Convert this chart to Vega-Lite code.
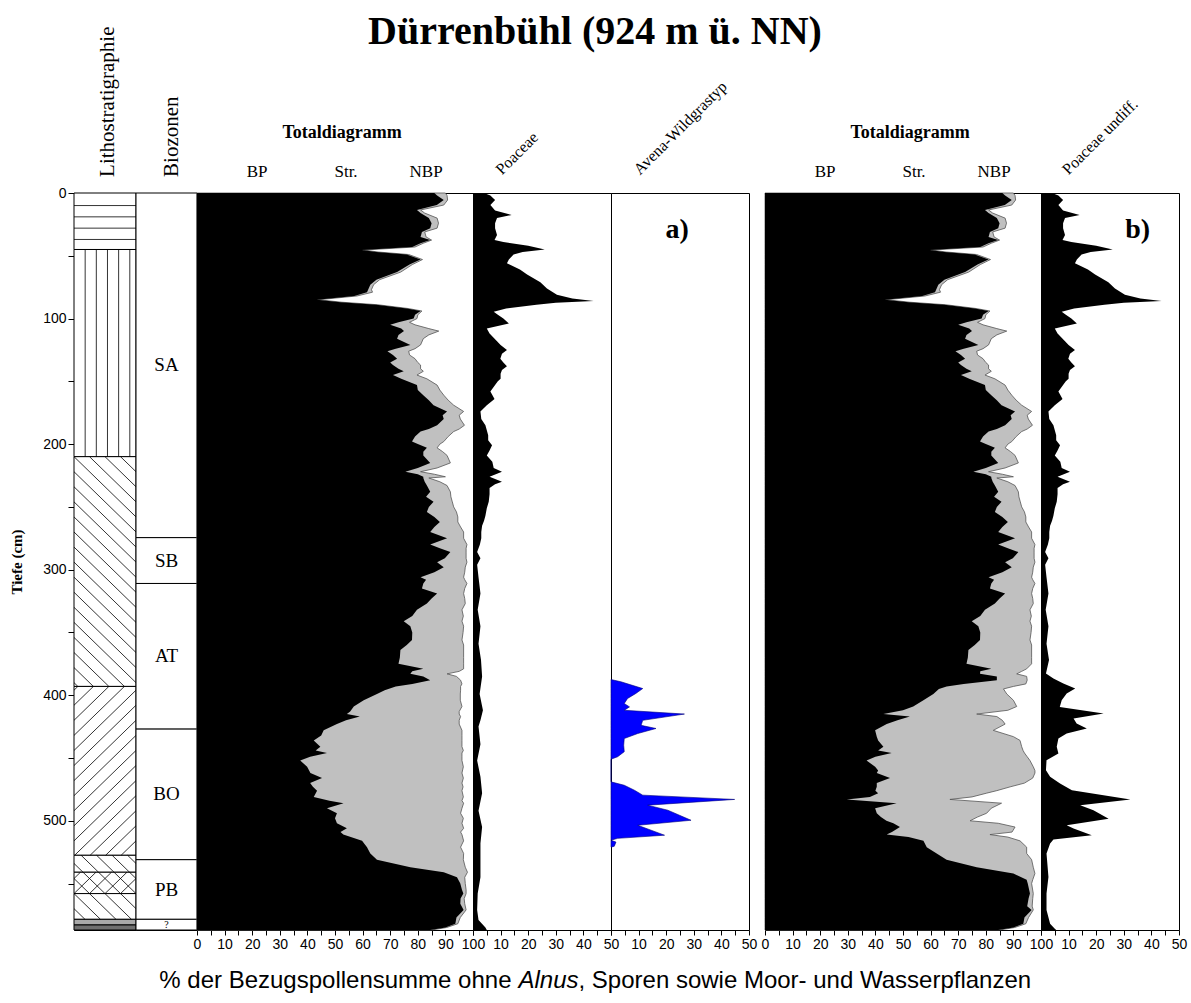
{
"$schema": "https://vega.github.io/schema/vega-lite/v6.json",
"background": "white",
"padding": {"left": 9, "top": 11, "right": 3, "bottom": 4},
"bounds": "flush",
"spacing": 0,
"datasets": {
"total_a": [
{"depth":0,"bp":86,"cum":90},{"depth":2,"bp":87,"cum":90.6},{"depth":5.6,"bp":89.4,"cum":90.8},{"depth":9.6,"bp":86.9,"cum":89.4},{"depth":13.5,"bp":79.7,"cum":81},{"depth":16,"bp":81,"cum":82.5},{"depth":20,"bp":84,"cum":87},{"depth":24,"bp":85,"cum":87.5},{"depth":28,"bp":84.5,"cum":87},{"depth":31,"bp":81.5,"cum":82.5},{"depth":35,"bp":81,"cum":83},{"depth":37.5,"bp":84.5,"cum":85},{"depth":40,"bp":81,"cum":82},{"depth":43,"bp":78,"cum":79},{"depth":45.4,"bp":59.8,"cum":60.4},{"depth":47,"bp":65,"cum":65.6},{"depth":49,"bp":76,"cum":76.7},{"depth":53,"bp":81,"cum":81.7},{"depth":57,"bp":77,"cum":78},{"depth":63,"bp":72.5,"cum":73.8},{"depth":69,"bp":65,"cum":66.2},{"depth":73,"bp":62.8,"cum":64},{"depth":77,"bp":62,"cum":63.2},{"depth":79,"bp":61.6,"cum":63.6},{"depth":82,"bp":57,"cum":58},{"depth":85,"bp":43.5,"cum":44},{"depth":87,"bp":52,"cum":52.5},{"depth":89,"bp":65,"cum":65.5},{"depth":92,"bp":76,"cum":76.5},{"depth":94,"bp":81,"cum":81.5},{"depth":97,"bp":79,"cum":80},{"depth":100,"bp":78.5,"cum":79.7},{"depth":103,"bp":73,"cum":77},{"depth":105,"bp":70,"cum":79},{"depth":108,"bp":74,"cum":84},{"depth":110,"bp":75,"cum":87.6},{"depth":113,"bp":73,"cum":84},{"depth":116,"bp":72.5,"cum":82},{"depth":121,"bp":77.3,"cum":81},{"depth":124,"bp":72,"cum":79},{"depth":126,"bp":69,"cum":76.7},{"depth":129,"bp":71,"cum":77},{"depth":132,"bp":72.5,"cum":79},{"depth":135,"bp":70,"cum":80},{"depth":137,"bp":71,"cum":81},{"depth":140,"bp":73,"cum":81},{"depth":142,"bp":74.9,"cum":82},{"depth":145,"bp":71,"cum":79.7},{"depth":148,"bp":74,"cum":83.3},{"depth":153,"bp":79.7,"cum":87},{"depth":157,"bp":80,"cum":88},{"depth":161,"bp":82,"cum":89.4},{"depth":165,"bp":84,"cum":91},{"depth":169,"bp":85.7,"cum":93},{"depth":174,"bp":90.6,"cum":96.6},{"depth":177,"bp":89,"cum":95},{"depth":180,"bp":89.4,"cum":95.4},{"depth":185,"bp":87,"cum":96.9},{"depth":188,"bp":84,"cum":95},{"depth":190,"bp":81,"cum":93},{"depth":194,"bp":79,"cum":91},{"depth":198,"bp":77.9,"cum":89.4},{"depth":200,"bp":80,"cum":88},{"depth":203,"bp":83.3,"cum":87},{"depth":206,"bp":82,"cum":89},{"depth":209,"bp":82,"cum":90.6},{"depth":215,"bp":84.5,"cum":91.8},{"depth":219,"bp":80,"cum":87},{"depth":222,"bp":75.5,"cum":81},{"depth":224,"bp":80,"cum":86},{"depth":226,"bp":82,"cum":90},{"depth":227,"bp":82,"cum":84},{"depth":230,"bp":82.5,"cum":88},{"depth":233,"bp":83.3,"cum":90.6},{"depth":238,"bp":84.5,"cum":91.8},{"depth":242,"bp":83,"cum":92},{"depth":246,"bp":85.7,"cum":92.5},{"depth":250,"bp":84,"cum":93},{"depth":254,"bp":83.3,"cum":94},{"depth":258,"bp":86,"cum":94.5},{"depth":262,"bp":88,"cum":94.5},{"depth":266,"bp":86,"cum":95.5},{"depth":270,"bp":84.5,"cum":96.6},{"depth":275,"bp":90.6,"cum":96.6},{"depth":280,"bp":84.5,"cum":97.8},{"depth":283,"bp":88,"cum":97.5},{"depth":286,"bp":91.8,"cum":97.5},{"depth":291,"bp":89.8,"cum":97.5},{"depth":294,"bp":87,"cum":97.8},{"depth":298,"bp":89.4,"cum":97.2},{"depth":302,"bp":86,"cum":97},{"depth":306,"bp":81,"cum":96.6},{"depth":308,"bp":83,"cum":97},{"depth":311,"bp":82,"cum":97.8},{"depth":315,"bp":81.5,"cum":97},{"depth":319,"bp":87,"cum":96.6},{"depth":323,"bp":85,"cum":97},{"depth":327,"bp":83.3,"cum":97.2},{"depth":332,"bp":79.7,"cum":96},{"depth":337,"bp":78,"cum":96.5},{"depth":341,"bp":74.9,"cum":96},{"depth":345,"bp":77.3,"cum":96.6},{"depth":350,"bp":78,"cum":96.4},{"depth":356,"bp":77.9,"cum":96},{"depth":360,"bp":76,"cum":96.6},{"depth":364,"bp":73.7,"cum":96.6},{"depth":370,"bp":73.5,"cum":96.6},{"depth":375,"bp":73,"cum":96.6},{"depth":379,"bp":82,"cum":96.6},{"depth":381,"bp":78,"cum":95},{"depth":383,"bp":77.3,"cum":90.6},{"depth":385,"bp":82,"cum":94},{"depth":388,"bp":84.5,"cum":95.5},{"depth":391,"bp":78,"cum":96},{"depth":393,"bp":72,"cum":95.5},{"depth":396,"bp":68,"cum":95.5},{"depth":399,"bp":65.2,"cum":95.4},{"depth":404,"bp":60.4,"cum":95.4},{"depth":409,"bp":56.8,"cum":96},{"depth":413,"bp":55.5,"cum":95},{"depth":415,"bp":54.3,"cum":95},{"depth":417,"bp":59,"cum":95.5},{"depth":420,"bp":54,"cum":95},{"depth":423,"bp":50.7,"cum":95},{"depth":428,"bp":45.9,"cum":96},{"depth":432,"bp":45,"cum":96},{"depth":436,"bp":42.3,"cum":96},{"depth":441,"bp":44.7,"cum":96},{"depth":444,"bp":43,"cum":96.5},{"depth":446,"bp":47.1,"cum":96},{"depth":449,"bp":41,"cum":96},{"depth":452,"bp":37.4,"cum":96},{"depth":457,"bp":39.9,"cum":96.5},{"depth":462,"bp":41.1,"cum":96},{"depth":466,"bp":45.3,"cum":96.5},{"depth":470,"bp":41,"cum":96},{"depth":473,"bp":42,"cum":96.4},{"depth":476,"bp":43.5,"cum":96},{"depth":481,"bp":42.3,"cum":96.5},{"depth":484,"bp":48,"cum":96},{"depth":486,"bp":53.1,"cum":96.6},{"depth":490,"bp":47.1,"cum":96},{"depth":494,"bp":50.7,"cum":95.5},{"depth":498,"bp":50,"cum":96.5},{"depth":502,"bp":50.7,"cum":96},{"depth":506,"bp":54.3,"cum":96.6},{"depth":509,"bp":52,"cum":95.5},{"depth":511,"bp":53,"cum":96},{"depth":516,"bp":59.8,"cum":96.6},{"depth":521,"bp":61.6,"cum":95.5},{"depth":526,"bp":62.8,"cum":96.6},{"depth":531,"bp":65.2,"cum":96.5},{"depth":537,"bp":77.3,"cum":97.2},{"depth":541,"bp":89.4,"cum":98},{"depth":545,"bp":94.2,"cum":97},{"depth":550,"bp":95.4,"cum":97.2},{"depth":555,"bp":96,"cum":97.5},{"depth":558,"bp":96.5,"cum":97.5},{"depth":562,"bp":95.5,"cum":96.8},{"depth":566,"bp":95.4,"cum":97},{"depth":571,"bp":96.6,"cum":97.5},{"depth":577,"bp":94,"cum":95.4},{"depth":582,"bp":93.6,"cum":94.5},{"depth":585,"bp":90,"cum":90.5},{"depth":587,"bp":84.5,"cum":85}
],
"total_b": [
{"depth":0,"bp":86,"cum":90},{"depth":2,"bp":87,"cum":90.6},{"depth":5.6,"bp":89.4,"cum":90.8},{"depth":9.6,"bp":86.9,"cum":89.4},{"depth":13.5,"bp":79.7,"cum":81},{"depth":16,"bp":81,"cum":82.5},{"depth":20,"bp":84,"cum":87},{"depth":24,"bp":85,"cum":87.5},{"depth":28,"bp":84.5,"cum":87},{"depth":31,"bp":81.5,"cum":82.5},{"depth":35,"bp":81,"cum":83},{"depth":37.5,"bp":84.5,"cum":85},{"depth":40,"bp":81,"cum":82},{"depth":43,"bp":78,"cum":79},{"depth":45.4,"bp":59.8,"cum":60.4},{"depth":47,"bp":65,"cum":65.6},{"depth":49,"bp":76,"cum":76.7},{"depth":53,"bp":81,"cum":81.7},{"depth":57,"bp":77,"cum":78},{"depth":63,"bp":72.5,"cum":73.8},{"depth":69,"bp":65,"cum":66.2},{"depth":73,"bp":62.8,"cum":64},{"depth":77,"bp":62,"cum":63.2},{"depth":79,"bp":61.6,"cum":63.6},{"depth":82,"bp":57,"cum":58},{"depth":85,"bp":43.5,"cum":44},{"depth":87,"bp":52,"cum":52.5},{"depth":89,"bp":65,"cum":65.5},{"depth":92,"bp":76,"cum":76.5},{"depth":94,"bp":81,"cum":81.5},{"depth":97,"bp":79,"cum":80},{"depth":100,"bp":78.5,"cum":79.7},{"depth":103,"bp":73,"cum":77},{"depth":105,"bp":70,"cum":79},{"depth":108,"bp":74,"cum":84},{"depth":110,"bp":75,"cum":87.6},{"depth":113,"bp":73,"cum":84},{"depth":116,"bp":72.5,"cum":82},{"depth":121,"bp":77.3,"cum":81},{"depth":124,"bp":72,"cum":79},{"depth":126,"bp":69,"cum":76.7},{"depth":129,"bp":71,"cum":77},{"depth":132,"bp":72.5,"cum":79},{"depth":135,"bp":70,"cum":80},{"depth":137,"bp":71,"cum":81},{"depth":140,"bp":73,"cum":81},{"depth":142,"bp":74.9,"cum":82},{"depth":145,"bp":71,"cum":79.7},{"depth":148,"bp":74,"cum":83.3},{"depth":153,"bp":79.7,"cum":87},{"depth":157,"bp":80,"cum":88},{"depth":161,"bp":82,"cum":89.4},{"depth":165,"bp":84,"cum":91},{"depth":169,"bp":85.7,"cum":93},{"depth":174,"bp":90.6,"cum":96.6},{"depth":177,"bp":89,"cum":95},{"depth":180,"bp":89.4,"cum":95.4},{"depth":185,"bp":87,"cum":96.9},{"depth":188,"bp":84,"cum":95},{"depth":190,"bp":81,"cum":93},{"depth":194,"bp":79,"cum":91},{"depth":198,"bp":77.9,"cum":89.4},{"depth":200,"bp":80,"cum":88},{"depth":203,"bp":83.3,"cum":87},{"depth":206,"bp":82,"cum":89},{"depth":209,"bp":82,"cum":90.6},{"depth":215,"bp":84.5,"cum":91.8},{"depth":219,"bp":80,"cum":87},{"depth":222,"bp":75.5,"cum":81},{"depth":224,"bp":80,"cum":86},{"depth":226,"bp":82,"cum":90},{"depth":227,"bp":82,"cum":84},{"depth":230,"bp":82.5,"cum":88},{"depth":233,"bp":83.3,"cum":90.6},{"depth":238,"bp":84.5,"cum":91.8},{"depth":242,"bp":83,"cum":92},{"depth":246,"bp":85.7,"cum":92.5},{"depth":250,"bp":84,"cum":93},{"depth":254,"bp":83.3,"cum":94},{"depth":258,"bp":86,"cum":94.5},{"depth":262,"bp":88,"cum":94.5},{"depth":266,"bp":86,"cum":95.5},{"depth":270,"bp":84.5,"cum":96.6},{"depth":275,"bp":90.6,"cum":96.6},{"depth":280,"bp":84.5,"cum":97.8},{"depth":283,"bp":88,"cum":97.5},{"depth":286,"bp":91.8,"cum":97.5},{"depth":291,"bp":89.8,"cum":97.5},{"depth":294,"bp":87,"cum":97.8},{"depth":298,"bp":89.4,"cum":97.2},{"depth":302,"bp":86,"cum":97},{"depth":306,"bp":81,"cum":96.6},{"depth":308,"bp":83,"cum":97},{"depth":311,"bp":82,"cum":97.8},{"depth":315,"bp":81.5,"cum":97},{"depth":319,"bp":87,"cum":96.6},{"depth":323,"bp":85,"cum":97},{"depth":327,"bp":83.3,"cum":97.2},{"depth":332,"bp":79.7,"cum":96},{"depth":337,"bp":78,"cum":96.5},{"depth":341,"bp":74.9,"cum":96},{"depth":345,"bp":77.3,"cum":96.6},{"depth":350,"bp":78,"cum":96.4},{"depth":356,"bp":77.9,"cum":96},{"depth":360,"bp":76,"cum":96.6},{"depth":364,"bp":73.7,"cum":96.6},{"depth":370,"bp":73.5,"cum":96.6},{"depth":375,"bp":73,"cum":96.6},{"depth":379,"bp":82,"cum":94.8},{"depth":381,"bp":78,"cum":93},{"depth":383,"bp":77.9,"cum":91.2},{"depth":385,"bp":84,"cum":94.8},{"depth":388,"bp":84,"cum":95},{"depth":391,"bp":72,"cum":94.5},{"depth":393,"bp":65.8,"cum":90},{"depth":395,"bp":63,"cum":86.4},{"depth":399,"bp":61,"cum":87.6},{"depth":404,"bp":57.4,"cum":90},{"depth":409,"bp":53.7,"cum":91.2},{"depth":412,"bp":50,"cum":88},{"depth":415,"bp":42.9,"cum":76.7},{"depth":417,"bp":52.5,"cum":84},{"depth":420,"bp":48,"cum":86},{"depth":423,"bp":44.1,"cum":87},{"depth":428,"bp":39.9,"cum":82.7},{"depth":433,"bp":40.5,"cum":90},{"depth":436,"bp":41,"cum":92.4},{"depth":441,"bp":42.9,"cum":93},{"depth":444,"bp":41,"cum":93.5},{"depth":446,"bp":45.9,"cum":94},{"depth":449,"bp":40,"cum":95},{"depth":452,"bp":36.8,"cum":96},{"depth":457,"bp":39.9,"cum":97.2},{"depth":460,"bp":41,"cum":97.8},{"depth":462,"bp":40.5,"cum":97.8},{"depth":466,"bp":45.3,"cum":97},{"depth":470,"bp":40.5,"cum":94},{"depth":473,"bp":40.5,"cum":88.8},{"depth":476,"bp":40,"cum":84},{"depth":478,"bp":41,"cum":80.3},{"depth":481,"bp":38,"cum":75},{"depth":483,"bp":29.6,"cum":67},{"depth":486,"bp":47.7,"cum":85.7},{"depth":490,"bp":39.9,"cum":82},{"depth":494,"bp":40.5,"cum":80.3},{"depth":497,"bp":42,"cum":77},{"depth":500,"bp":44,"cum":74.3},{"depth":502,"bp":46.5,"cum":84.5},{"depth":505,"bp":48.9,"cum":90.6},{"depth":509,"bp":46,"cum":89.5},{"depth":511,"bp":44.1,"cum":81.5},{"depth":513,"bp":52,"cum":88},{"depth":516,"bp":57.4,"cum":92.4},{"depth":521,"bp":58.6,"cum":94.8},{"depth":526,"bp":62.2,"cum":94.8},{"depth":531,"bp":65.8,"cum":96.6},{"depth":537,"bp":76.7,"cum":97.2},{"depth":542,"bp":90,"cum":97.8},{"depth":547,"bp":94.8,"cum":97},{"depth":550,"bp":95.2,"cum":96.6},{"depth":558,"bp":96,"cum":97.2},{"depth":562,"bp":95.5,"cum":97},{"depth":568,"bp":95,"cum":96.8},{"depth":571,"bp":96.6,"cum":97.2},{"depth":577,"bp":94,"cum":95.5},{"depth":582,"bp":93.6,"cum":94.5},{"depth":585,"bp":90,"cum":90.5},{"depth":587,"bp":84.5,"cum":85}
],
"poac_a": [
{"depth":0,"v":4},{"depth":2,"v":6.3},{"depth":5.6,"v":8},{"depth":9.6,"v":6.3},{"depth":14,"v":8},{"depth":17.5,"v":14},{"depth":20,"v":8.7},{"depth":24,"v":8},{"depth":28,"v":8},{"depth":33.5,"v":8.7},{"depth":37.5,"v":7.8},{"depth":39,"v":11},{"depth":42,"v":20},{"depth":45,"v":26},{"depth":47,"v":18},{"depth":49,"v":14.7},{"depth":53,"v":13},{"depth":56,"v":12.3},{"depth":61,"v":17},{"depth":65,"v":19.6},{"depth":71,"v":24.4},{"depth":76,"v":26.8},{"depth":81,"v":30.4},{"depth":84,"v":36},{"depth":86,"v":43.7},{"depth":87.5,"v":30},{"depth":89,"v":23},{"depth":92,"v":12},{"depth":94.5,"v":7.5},{"depth":97,"v":9},{"depth":100,"v":11},{"depth":104,"v":13},{"depth":106,"v":9},{"depth":108,"v":5},{"depth":112,"v":6},{"depth":118,"v":8.7},{"depth":121,"v":10},{"depth":125,"v":12.3},{"depth":128,"v":10.5},{"depth":132,"v":9.9},{"depth":135,"v":11},{"depth":138,"v":12.3},{"depth":141,"v":10.5},{"depth":144,"v":10},{"depth":148,"v":10},{"depth":150,"v":9},{"depth":153,"v":8},{"depth":158,"v":6.3},{"depth":164,"v":7.8},{"depth":169,"v":5},{"depth":174,"v":2.7},{"depth":180,"v":3},{"depth":185,"v":4.5},{"depth":189,"v":5},{"depth":193,"v":5.5},{"depth":197,"v":5.5},{"depth":201,"v":6.9},{"depth":205,"v":6},{"depth":209,"v":5},{"depth":214,"v":7},{"depth":219,"v":7.5},{"depth":222,"v":10.5},{"depth":226,"v":6},{"depth":230,"v":10.5},{"depth":232,"v":8},{"depth":235,"v":6},{"depth":240,"v":6},{"depth":246,"v":5.7},{"depth":251,"v":5},{"depth":257,"v":4.5},{"depth":261,"v":4},{"depth":265,"v":3.3},{"depth":270,"v":3},{"depth":275,"v":3},{"depth":280,"v":2.5},{"depth":286,"v":1.5},{"depth":291,"v":2.7},{"depth":296,"v":1.5},{"depth":306,"v":2},{"depth":319,"v":2.7},{"depth":332,"v":1.7},{"depth":345,"v":2.7},{"depth":359,"v":2},{"depth":372,"v":2.9},{"depth":385,"v":3.3},{"depth":399,"v":2.4},{"depth":412,"v":3.6},{"depth":420,"v":2.7},{"depth":425,"v":2},{"depth":439,"v":2.7},{"depth":452,"v":1.5},{"depth":465,"v":2.7},{"depth":478,"v":3.3},{"depth":492,"v":2},{"depth":505,"v":3.3},{"depth":518,"v":2.7},{"depth":531,"v":2.7},{"depth":545,"v":2.7},{"depth":558,"v":1.7},{"depth":571,"v":1.5},{"depth":579,"v":2},{"depth":585,"v":4.5},{"depth":587,"v":5}
],
"poac_b": [
{"depth":0,"v":4},{"depth":2,"v":6.3},{"depth":5.6,"v":8},{"depth":9.6,"v":6.3},{"depth":14,"v":8},{"depth":17.5,"v":14},{"depth":20,"v":8.7},{"depth":24,"v":8},{"depth":28,"v":8},{"depth":33.5,"v":8.7},{"depth":37.5,"v":7.8},{"depth":39,"v":11},{"depth":42,"v":20},{"depth":45,"v":26},{"depth":47,"v":18},{"depth":49,"v":14.7},{"depth":53,"v":13},{"depth":56,"v":12.3},{"depth":61,"v":17},{"depth":65,"v":19.6},{"depth":71,"v":24.4},{"depth":76,"v":26.8},{"depth":81,"v":30.4},{"depth":84,"v":36},{"depth":86,"v":43.7},{"depth":87.5,"v":30},{"depth":89,"v":23},{"depth":92,"v":12},{"depth":94.5,"v":7.5},{"depth":97,"v":9},{"depth":100,"v":11},{"depth":104,"v":13},{"depth":106,"v":9},{"depth":108,"v":5},{"depth":112,"v":6},{"depth":118,"v":8.7},{"depth":121,"v":10},{"depth":125,"v":12.3},{"depth":128,"v":10.5},{"depth":132,"v":9.9},{"depth":135,"v":11},{"depth":138,"v":12.3},{"depth":141,"v":10.5},{"depth":144,"v":10},{"depth":148,"v":10},{"depth":150,"v":9},{"depth":153,"v":8},{"depth":158,"v":6.3},{"depth":164,"v":7.8},{"depth":169,"v":5},{"depth":174,"v":2.7},{"depth":180,"v":3},{"depth":185,"v":4.5},{"depth":189,"v":5},{"depth":193,"v":5.5},{"depth":197,"v":5.5},{"depth":201,"v":6.9},{"depth":205,"v":6},{"depth":209,"v":5},{"depth":214,"v":7},{"depth":219,"v":7.5},{"depth":222,"v":10.5},{"depth":226,"v":6},{"depth":230,"v":10.5},{"depth":232,"v":8},{"depth":235,"v":6},{"depth":240,"v":6},{"depth":246,"v":5.7},{"depth":251,"v":5},{"depth":257,"v":4.5},{"depth":261,"v":4},{"depth":265,"v":3.3},{"depth":270,"v":3},{"depth":275,"v":3},{"depth":280,"v":2.5},{"depth":286,"v":1.5},{"depth":291,"v":2.7},{"depth":296,"v":1.5},{"depth":306,"v":2},{"depth":319,"v":2.7},{"depth":332,"v":1.7},{"depth":345,"v":2.7},{"depth":359,"v":2},{"depth":372,"v":2.9},{"depth":382.7,"v":1.8},{"depth":386.7,"v":4.5},{"depth":390.7,"v":8.1},{"depth":394.7,"v":12.4},{"depth":398.6,"v":9.3},{"depth":404,"v":7.5},{"depth":409.3,"v":6.8},{"depth":414.6,"v":22.7},{"depth":418.6,"v":11.8},{"depth":422.5,"v":12.9},{"depth":426.5,"v":16.6},{"depth":430.5,"v":9.3},{"depth":434.5,"v":6.3},{"depth":441,"v":5.7},{"depth":446.5,"v":6.3},{"depth":451.8,"v":2},{"depth":459.7,"v":1.8},{"depth":465,"v":3.3},{"depth":470.4,"v":6.9},{"depth":475.7,"v":11.2},{"depth":483,"v":32.4},{"depth":487.6,"v":14.2},{"depth":491.6,"v":19},{"depth":498.3,"v":24.5},{"depth":503.6,"v":9.3},{"depth":506.2,"v":11.8},{"depth":511.5,"v":18.4},{"depth":515,"v":4.5},{"depth":518.2,"v":3.3},{"depth":526,"v":2},{"depth":544.7,"v":2.7},{"depth":558,"v":2},{"depth":571,"v":2},{"depth":582,"v":3.3},{"depth":586,"v":5},{"depth":587,"v":5.5}
],
"avena": [
{"depth":387.5,"v":0},{"depth":389.3,"v":3.6},{"depth":394.7,"v":11.5},{"depth":398.6,"v":9},{"depth":402.6,"v":6},{"depth":406.6,"v":4.8},{"depth":409.3,"v":6.7},{"depth":412,"v":4.8},{"depth":415,"v":26.6},{"depth":420,"v":11.5},{"depth":424,"v":10.9},{"depth":426.5,"v":16.3},{"depth":430.5,"v":9.7},{"depth":434.5,"v":4.8},{"depth":439.8,"v":4.6},{"depth":445,"v":4.8},{"depth":449,"v":2.4},{"depth":451,"v":0},{"depth":469,"v":0},{"depth":471.7,"v":4.8},{"depth":475.7,"v":8.5},{"depth":479.6,"v":11.5},{"depth":483,"v":44.8},{"depth":487.6,"v":13.3},{"depth":491.6,"v":20.6},{"depth":495.6,"v":24.8},{"depth":499.6,"v":29},{"depth":503.6,"v":9.7},{"depth":507.5,"v":14.5},{"depth":511.5,"v":19.4},{"depth":514,"v":2.4},{"depth":515.5,"v":0},{"depth":517,"v":1.8},{"depth":520.3,"v":1.2},{"depth":521,"v":0}
],
"litho": [
{"top":0,"bottom":45,"type":"h"},{"top":45,"bottom":210,"type":"v"},{"top":210,"bottom":393,"type":"d1"},{"top":393,"bottom":527.5,"type":"d2"},{"top":527.5,"bottom":541,"type":"d1"},{"top":541,"bottom":558,"type":"x"},{"top":558,"bottom":578.5,"type":"d1"},{"top":578.5,"bottom":583,"type":"lg"},{"top":583,"bottom":587,"type":"dg"}
],
"hatch": [
{"x":0,"x2":1,"ya":10,"yb":10},{"x":0,"x2":1,"ya":19,"yb":19},{"x":0,"x2":1,"ya":28,"yb":28},{"x":0,"x2":1,"ya":37,"yb":37},
{"x":0.18,"x2":0.18,"ya":45,"yb":210},{"x":0.36,"x2":0.36,"ya":45,"yb":210},{"x":0.54,"x2":0.54,"ya":45,"yb":210},{"x":0.72,"x2":0.72,"ya":45,"yb":210},{"x":0.9,"x2":0.9,"ya":45,"yb":210},
{"x":0.75,"x2":1,"ya":210,"yb":222},{"x":0.5,"x2":1,"ya":210,"yb":234},{"x":0.25,"x2":1,"ya":210,"yb":246},{"x":0,"x2":1,"ya":210,"yb":258},{"x":0,"x2":1,"ya":222,"yb":270},{"x":0,"x2":1,"ya":234,"yb":282},{"x":0,"x2":1,"ya":246,"yb":294},{"x":0,"x2":1,"ya":258,"yb":306},{"x":0,"x2":1,"ya":270,"yb":318},{"x":0,"x2":1,"ya":282,"yb":330},{"x":0,"x2":1,"ya":294,"yb":342},{"x":0,"x2":1,"ya":306,"yb":354},{"x":0,"x2":1,"ya":318,"yb":366},{"x":0,"x2":1,"ya":330,"yb":378},{"x":0,"x2":1,"ya":342,"yb":390},{"x":0,"x2":0.8125,"ya":354,"yb":393},{"x":0,"x2":0.5625,"ya":366,"yb":393},{"x":0,"x2":0.3125,"ya":378,"yb":393},{"x":0,"x2":0.0625,"ya":390,"yb":393},
{"x":0,"x2":0.0625,"ya":396,"yb":393},{"x":0,"x2":0.3125,"ya":408,"yb":393},{"x":0,"x2":0.5625,"ya":420,"yb":393},{"x":0,"x2":0.8125,"ya":432,"yb":393},{"x":0,"x2":1,"ya":444,"yb":396},{"x":0,"x2":1,"ya":456,"yb":408},{"x":0,"x2":1,"ya":468,"yb":420},{"x":0,"x2":1,"ya":480,"yb":432},{"x":0,"x2":1,"ya":492,"yb":444},{"x":0,"x2":1,"ya":504,"yb":456},{"x":0,"x2":1,"ya":516,"yb":468},{"x":0.01,"x2":1,"ya":527.5,"yb":480},{"x":0.26,"x2":1,"ya":527.5,"yb":492},{"x":0.51,"x2":1,"ya":527.5,"yb":504},{"x":0.76,"x2":1,"ya":527.5,"yb":516},
{"x":0.865,"x2":1,"ya":527.5,"yb":534},{"x":0.615,"x2":0.896,"ya":527.5,"yb":541},{"x":0.365,"x2":0.646,"ya":527.5,"yb":541},{"x":0.115,"x2":0.396,"ya":527.5,"yb":541},{"x":0,"x2":0.146,"ya":534,"yb":541},
{"x":0.896,"x2":1,"ya":541,"yb":546},{"x":0.646,"x2":1,"ya":541,"yb":558},{"x":0.396,"x2":0.75,"ya":541,"yb":558},{"x":0.146,"x2":0.5,"ya":541,"yb":558},{"x":0,"x2":0.25,"ya":546,"yb":558},
{"x":0,"x2":0.104,"ya":546,"yb":541},{"x":0,"x2":0.354,"ya":558,"yb":541},{"x":0.25,"x2":0.604,"ya":558,"yb":541},{"x":0.5,"x2":0.854,"ya":558,"yb":541},{"x":0.75,"x2":1,"ya":558,"yb":546},
{"x":0.75,"x2":1,"ya":558,"yb":570},{"x":0.5,"x2":0.927,"ya":558,"yb":578.5},{"x":0.25,"x2":0.677,"ya":558,"yb":578.5},{"x":0,"x2":0.427,"ya":558,"yb":578.5},{"x":0,"x2":0.177,"ya":570,"yb":578.5}
],
"zones": [
{"top":0,"bottom":274.5,"zone":"SA"},{"top":274.5,"bottom":311,"zone":"SB"},{"top":311,"bottom":427,"zone":"AT"},{"top":427,"bottom":531,"zone":"BO"},{"top":531,"bottom":578.5,"zone":"PB"},{"top":578.5,"bottom":587,"zone":"?"}
]
},
"hconcat": [
{
 "width": 62, "height": 737,
 "layer": [
  {"data": {"name": "litho"}, "mark": {"type": "rect", "stroke": "black", "strokeWidth": 1},
   "encoding": {
    "y": {"field": "top", "type": "quantitative", "scale": {"domain": [0, 587], "reverse": true, "nice": false, "zero": false},
      "axis": {"values": [0,50,100,150,200,250,300,350,400,450,500,550], "labelExpr": "datum.value % 100 === 0 ? datum.label : ''", "tickSize": 6, "title": "Tiefe (cm)", "titleFont": "Liberation Serif", "titleFontSize": 15, "titleFontWeight": "bold", "titlePadding": 18, "labelPadding": 2, "labelFont": "Liberation Sans", "labelFontSize": 14}},
    "y2": {"field": "bottom"},
    "x": {"datum": 0, "type": "quantitative", "scale": {"domain": [0, 1], "nice": false, "zero": false}, "axis": null},
    "x2": {"datum": 1},
    "fill": {"condition": [{"test": "datum.type === 'lg'", "value": "#a9a9a9"}, {"test": "datum.type === 'dg'", "value": "#707070"}], "value": "white"}
   }},
  {"data": {"name": "hatch"}, "mark": {"type": "rule", "color": "black", "strokeWidth": 0.8},
   "encoding": {
    "x": {"field": "x", "type": "quantitative", "scale": {"domain": [0, 1], "nice": false, "zero": false}, "axis": null},
    "x2": {"field": "x2"},
    "y": {"field": "ya", "type": "quantitative", "scale": {"domain": [0, 587], "reverse": true, "nice": false, "zero": false},
      "axis": {"values": [0,50,100,150,200,250,300,350,400,450,500,550], "labelExpr": "datum.value % 100 === 0 ? datum.label : ''", "tickSize": 6, "title": "Tiefe (cm)", "titleFont": "Liberation Serif", "titleFontSize": 15, "titleFontWeight": "bold", "titlePadding": 18, "labelPadding": 2, "labelFont": "Liberation Sans", "labelFontSize": 14}},
    "y2": {"field": "yb"}
   }},
  {"data": {"values": [{"k": 1}]}, "mark": {"type": "text", "font": "Liberation Serif", "fontSize": 21, "angle": 270, "align": "left", "baseline": "middle", "color": "black"},
   "encoding": {
    "x": {"datum": 0.55, "type": "quantitative", "scale": {"domain": [0, 1], "nice": false, "zero": false}, "axis": null},
    "y": {"datum": -12.8, "type": "quantitative", "scale": {"domain": [0, 587], "reverse": true, "nice": false, "zero": false},
      "axis": {"values": [0,50,100,150,200,250,300,350,400,450,500,550], "labelExpr": "datum.value % 100 === 0 ? datum.label : ''", "tickSize": 6, "title": "Tiefe (cm)", "titleFont": "Liberation Serif", "titleFontSize": 15, "titleFontWeight": "bold", "titlePadding": 18, "labelPadding": 2, "labelFont": "Liberation Sans", "labelFontSize": 14}},
    "text": {"value": "Lithostratigraphie"}
   }}
 ]
},
{
 "width": 61, "height": 737,
 "layer": [
  {"data": {"name": "zones"}, "mark": {"type": "rect", "fill": "white", "stroke": "black", "strokeWidth": 1},
   "encoding": {
    "y": {"field": "top", "type": "quantitative", "scale": {"domain": [0, 587], "reverse": true, "nice": false, "zero": false}, "axis": null},
    "y2": {"field": "bottom"},
    "x": {"datum": 0, "type": "quantitative", "scale": {"domain": [0, 1], "nice": false, "zero": false}, "axis": null},
    "x2": {"datum": 1}
   }},
  {"data": {"name": "zones"}, "transform": [{"calculate": "(datum.top + datum.bottom) / 2", "as": "mid"}],
   "mark": {"type": "text", "font": "Liberation Serif", "color": "black", "align": "center", "baseline": "middle"},
   "encoding": {
    "y": {"field": "mid", "type": "quantitative", "scale": {"domain": [0, 587], "reverse": true, "nice": false, "zero": false}, "axis": null},
    "x": {"datum": 0.5, "type": "quantitative", "scale": {"domain": [0, 1], "nice": false, "zero": false}, "axis": null},
    "text": {"field": "zone"},
    "size": {"condition": {"test": "datum.zone === '?'", "value": 10}, "value": 19}
   }},
  {"data": {"values": [{"k": 1}]}, "mark": {"type": "text", "font": "Liberation Serif", "fontSize": 21, "angle": 270, "align": "left", "baseline": "middle", "color": "black"},
   "encoding": {
    "x": {"datum": 0.59, "type": "quantitative", "scale": {"domain": [0, 1], "nice": false, "zero": false}, "axis": null},
    "y": {"datum": -12.8, "type": "quantitative", "scale": {"domain": [0, 587], "reverse": true, "nice": false, "zero": false}, "axis": null},
    "text": {"value": "Biozonen"}
   }}
 ]
},
{
 "width": 276, "height": 737,
 "layer": [
  {"data": {"name": "total_a"}, "mark": {"type": "area", "orient": "horizontal", "fill": "#c0c0c0", "stroke": "#555555", "strokeWidth": 0.8},
   "encoding": {
    "y": {"field": "depth", "type": "quantitative", "scale": {"domain": [0, 587], "reverse": true, "nice": false, "zero": false}, "axis": null},
    "x": {"field": "cum", "type": "quantitative", "scale": {"domain": [0, 100], "nice": false, "zero": false},
      "axis": {"values": [0,5,10,15,20,25,30,35,40,45,50,55,60,65,70,75,80,85,90,95,100], "labelExpr": "datum.value % 10 === 0 ? datum.label : ''", "tickSize": 5, "title": "% der Bezugspollensumme ohne", "titleAlign": "right", "titleX": 314, "titleY": 57, "titleBaseline": "alphabetic"}},
    "x2": {"datum": 0}
   }},
  {"data": {"name": "total_a"}, "mark": {"type": "area", "orient": "horizontal", "fill": "black"},
   "encoding": {
    "y": {"field": "depth", "type": "quantitative", "scale": {"domain": [0, 587], "reverse": true, "nice": false, "zero": false}, "axis": null},
    "x": {"field": "bp", "type": "quantitative", "scale": {"domain": [0, 100], "nice": false, "zero": false},
      "axis": {"values": [0,5,10,15,20,25,30,35,40,45,50,55,60,65,70,75,80,85,90,95,100], "labelExpr": "datum.value % 10 === 0 ? datum.label : ''", "tickSize": 5, "title": "% der Bezugspollensumme ohne", "titleAlign": "right", "titleX": 314, "titleY": 57, "titleBaseline": "alphabetic"}},
    "x2": {"datum": 0}
   }},
  {"data": {"values": [{"k": 1}]}, "mark": {"type": "text", "font": "Liberation Serif", "fontSize": 18, "fontWeight": "bold", "align": "center", "baseline": "middle", "color": "black"},
   "encoding": {"x": {"datum": 52.6, "type": "quantitative", "scale": {"domain": [0, 100], "nice": false, "zero": false},
      "axis": {"values": [0,5,10,15,20,25,30,35,40,45,50,55,60,65,70,75,80,85,90,95,100], "labelExpr": "datum.value % 10 === 0 ? datum.label : ''", "tickSize": 5, "title": "% der Bezugspollensumme ohne", "titleAlign": "right", "titleX": 314, "titleY": 57, "titleBaseline": "alphabetic"}},
    "y": {"datum": -47.8, "type": "quantitative", "scale": {"domain": [0, 587], "reverse": true, "nice": false, "zero": false}, "axis": null}, "text": {"value": "Totaldiagramm"}}},
  {"data": {"values": [{"k": 1}]}, "mark": {"type": "text", "font": "Liberation Serif", "fontSize": 17, "align": "center", "baseline": "middle", "color": "black"},
   "encoding": {"x": {"datum": 21.8, "type": "quantitative", "scale": {"domain": [0, 100], "nice": false, "zero": false},
      "axis": {"values": [0,5,10,15,20,25,30,35,40,45,50,55,60,65,70,75,80,85,90,95,100], "labelExpr": "datum.value % 10 === 0 ? datum.label : ''", "tickSize": 5, "title": "% der Bezugspollensumme ohne", "titleAlign": "right", "titleX": 314, "titleY": 57, "titleBaseline": "alphabetic"}},
    "y": {"datum": -16.7, "type": "quantitative", "scale": {"domain": [0, 587], "reverse": true, "nice": false, "zero": false}, "axis": null}, "text": {"value": "BP"}}},
  {"data": {"values": [{"k": 1}]}, "mark": {"type": "text", "font": "Liberation Serif", "fontSize": 17, "align": "center", "baseline": "middle", "color": "black"},
   "encoding": {"x": {"datum": 54, "type": "quantitative", "scale": {"domain": [0, 100], "nice": false, "zero": false},
      "axis": {"values": [0,5,10,15,20,25,30,35,40,45,50,55,60,65,70,75,80,85,90,95,100], "labelExpr": "datum.value % 10 === 0 ? datum.label : ''", "tickSize": 5, "title": "% der Bezugspollensumme ohne", "titleAlign": "right", "titleX": 314, "titleY": 57, "titleBaseline": "alphabetic"}},
    "y": {"datum": -16.7, "type": "quantitative", "scale": {"domain": [0, 587], "reverse": true, "nice": false, "zero": false}, "axis": null}, "text": {"value": "Str."}}},
  {"data": {"values": [{"k": 1}]}, "mark": {"type": "text", "font": "Liberation Serif", "fontSize": 17, "align": "center", "baseline": "middle", "color": "black"},
   "encoding": {"x": {"datum": 83, "type": "quantitative", "scale": {"domain": [0, 100], "nice": false, "zero": false},
      "axis": {"values": [0,5,10,15,20,25,30,35,40,45,50,55,60,65,70,75,80,85,90,95,100], "labelExpr": "datum.value % 10 === 0 ? datum.label : ''", "tickSize": 5, "title": "% der Bezugspollensumme ohne", "titleAlign": "right", "titleX": 314, "titleY": 57, "titleBaseline": "alphabetic"}},
    "y": {"datum": -16.7, "type": "quantitative", "scale": {"domain": [0, 587], "reverse": true, "nice": false, "zero": false}, "axis": null}, "text": {"value": "NBP"}}}
 ]
},
{
 "width": 138, "height": 737,
 "layer": [
  {"data": {"name": "poac_a"}, "mark": {"type": "area", "orient": "horizontal", "fill": "black"},
   "encoding": {
    "y": {"field": "depth", "type": "quantitative", "scale": {"domain": [0, 587], "reverse": true, "nice": false, "zero": false}, "axis": null},
    "x": {"field": "v", "type": "quantitative", "scale": {"domain": [0, 50], "nice": false, "zero": false},
      "axis": {"values": [0,5,10,15,20,25,30,35,40,45,50], "labelExpr": "datum.value % 10 === 0 && datum.value > 0 ? datum.label : ''", "tickSize": 5, "title": "Alnus", "titleFontStyle": "italic", "titleAlign": "left", "titleX": 45, "titleY": 57, "titleBaseline": "alphabetic"}},
    "x2": {"datum": 0}
   }},
  {"data": {"values": [{"k": 1}]}, "mark": {"type": "text", "font": "Liberation Serif", "fontSize": 16, "angle": 315, "align": "left", "baseline": "alphabetic", "color": "black"},
   "encoding": {"x": {"datum": 10.5, "type": "quantitative", "scale": {"domain": [0, 50], "nice": false, "zero": false},
      "axis": {"values": [0,5,10,15,20,25,30,35,40,45,50], "labelExpr": "datum.value % 10 === 0 && datum.value > 0 ? datum.label : ''", "tickSize": 5, "title": "Alnus", "titleFontStyle": "italic", "titleAlign": "left", "titleX": 45, "titleY": 57, "titleBaseline": "alphabetic"}},
    "y": {"datum": -14, "type": "quantitative", "scale": {"domain": [0, 587], "reverse": true, "nice": false, "zero": false}, "axis": null}, "text": {"value": "Poaceae"}}},
  {"data": {"values": [{"k": 1}]}, "mark": {"type": "text", "font": "Liberation Serif", "fontSize": 40, "fontWeight": "bold", "align": "center", "baseline": "alphabetic", "color": "black"},
   "encoding": {"x": {"datum": 44.2, "type": "quantitative", "scale": {"domain": [0, 50], "nice": false, "zero": false},
      "axis": {"values": [0,5,10,15,20,25,30,35,40,45,50], "labelExpr": "datum.value % 10 === 0 && datum.value > 0 ? datum.label : ''", "tickSize": 5, "title": "Alnus", "titleFontStyle": "italic", "titleAlign": "left", "titleX": 45, "titleY": 57, "titleBaseline": "alphabetic"}},
    "y": {"datum": -118.7, "type": "quantitative", "scale": {"domain": [0, 587], "reverse": true, "nice": false, "zero": false}, "axis": null}, "text": {"value": "Dürrenbühl (924 m ü. NN)"}}}
 ]
},
{
 "width": 138, "height": 737,
 "layer": [
  {"data": {"name": "avena"}, "mark": {"type": "area", "orient": "horizontal", "fill": "#0000ff", "stroke": "#00007a", "strokeWidth": 0.6},
   "encoding": {
    "y": {"field": "depth", "type": "quantitative", "scale": {"domain": [0, 587], "reverse": true, "nice": false, "zero": false}, "axis": null},
    "x": {"field": "v", "type": "quantitative", "scale": {"domain": [0, 50], "nice": false, "zero": false},
      "axis": {"values": [0,5,10,15,20,25,30,35,40,45,50], "labelExpr": "datum.value % 10 === 0 && datum.value > 0 ? datum.label : ''", "tickSize": 5, "title": ", Sporen sowie Moor- und Wasserpflanzen", "titleAlign": "left", "titleX": -33, "titleY": 57, "titleBaseline": "alphabetic"}},
    "x2": {"datum": 0}
   }},
  {"data": {"values": [{"k": 1}]}, "mark": {"type": "text", "font": "Liberation Serif", "fontSize": 16, "angle": 315, "align": "left", "baseline": "alphabetic", "color": "black"},
   "encoding": {"x": {"datum": 10.5, "type": "quantitative", "scale": {"domain": [0, 50], "nice": false, "zero": false},
      "axis": {"values": [0,5,10,15,20,25,30,35,40,45,50], "labelExpr": "datum.value % 10 === 0 && datum.value > 0 ? datum.label : ''", "tickSize": 5, "title": ", Sporen sowie Moor- und Wasserpflanzen", "titleAlign": "left", "titleX": -33, "titleY": 57, "titleBaseline": "alphabetic"}},
    "y": {"datum": -14, "type": "quantitative", "scale": {"domain": [0, 587], "reverse": true, "nice": false, "zero": false}, "axis": null}, "text": {"value": "Avena-Wildgrastyp"}}},
  {"data": {"values": [{"k": 1}]}, "mark": {"type": "text", "font": "Liberation Serif", "fontSize": 28, "fontWeight": "bold", "align": "center", "baseline": "middle", "color": "black"},
   "encoding": {"x": {"datum": 24, "type": "quantitative", "scale": {"domain": [0, 50], "nice": false, "zero": false},
      "axis": {"values": [0,5,10,15,20,25,30,35,40,45,50], "labelExpr": "datum.value % 10 === 0 && datum.value > 0 ? datum.label : ''", "tickSize": 5, "title": ", Sporen sowie Moor- und Wasserpflanzen", "titleAlign": "left", "titleX": -33, "titleY": 57, "titleBaseline": "alphabetic"}},
    "y": {"datum": 29.5, "type": "quantitative", "scale": {"domain": [0, 587], "reverse": true, "nice": false, "zero": false}, "axis": null}, "text": {"value": "a)"}}}
 ]
},
{
 "width": 16, "height": 737, "view": {"stroke": null},
 "data": {"values": [{"k": 1}]},
 "mark": {"type": "text"},
 "encoding": {"text": {"value": ""}}
},
{
 "width": 276, "height": 737,
 "layer": [
  {"data": {"name": "total_b"}, "mark": {"type": "area", "orient": "horizontal", "fill": "#c0c0c0", "stroke": "#555555", "strokeWidth": 0.8},
   "encoding": {
    "y": {"field": "depth", "type": "quantitative", "scale": {"domain": [0, 587], "reverse": true, "nice": false, "zero": false}, "axis": null},
    "x": {"field": "cum", "type": "quantitative", "scale": {"domain": [0, 100], "nice": false, "zero": false},
      "axis": {"values": [0,5,10,15,20,25,30,35,40,45,50,55,60,65,70,75,80,85,90,95,100], "labelExpr": "datum.value % 10 === 0 ? datum.label : ''", "tickSize": 5, "title": null}},
    "x2": {"datum": 0}
   }},
  {"data": {"name": "total_b"}, "mark": {"type": "area", "orient": "horizontal", "fill": "black"},
   "encoding": {
    "y": {"field": "depth", "type": "quantitative", "scale": {"domain": [0, 587], "reverse": true, "nice": false, "zero": false}, "axis": null},
    "x": {"field": "bp", "type": "quantitative", "scale": {"domain": [0, 100], "nice": false, "zero": false},
      "axis": {"values": [0,5,10,15,20,25,30,35,40,45,50,55,60,65,70,75,80,85,90,95,100], "labelExpr": "datum.value % 10 === 0 ? datum.label : ''", "tickSize": 5, "title": null}},
    "x2": {"datum": 0}
   }},
  {"data": {"values": [{"k": 1}]}, "mark": {"type": "text", "font": "Liberation Serif", "fontSize": 18, "fontWeight": "bold", "align": "center", "baseline": "middle", "color": "black"},
   "encoding": {"x": {"datum": 52.6, "type": "quantitative", "scale": {"domain": [0, 100], "nice": false, "zero": false},
      "axis": {"values": [0,5,10,15,20,25,30,35,40,45,50,55,60,65,70,75,80,85,90,95,100], "labelExpr": "datum.value % 10 === 0 ? datum.label : ''", "tickSize": 5, "title": null}},
    "y": {"datum": -47.8, "type": "quantitative", "scale": {"domain": [0, 587], "reverse": true, "nice": false, "zero": false}, "axis": null}, "text": {"value": "Totaldiagramm"}}},
  {"data": {"values": [{"k": 1}]}, "mark": {"type": "text", "font": "Liberation Serif", "fontSize": 17, "align": "center", "baseline": "middle", "color": "black"},
   "encoding": {"x": {"datum": 21.8, "type": "quantitative", "scale": {"domain": [0, 100], "nice": false, "zero": false},
      "axis": {"values": [0,5,10,15,20,25,30,35,40,45,50,55,60,65,70,75,80,85,90,95,100], "labelExpr": "datum.value % 10 === 0 ? datum.label : ''", "tickSize": 5, "title": null}},
    "y": {"datum": -16.7, "type": "quantitative", "scale": {"domain": [0, 587], "reverse": true, "nice": false, "zero": false}, "axis": null}, "text": {"value": "BP"}}},
  {"data": {"values": [{"k": 1}]}, "mark": {"type": "text", "font": "Liberation Serif", "fontSize": 17, "align": "center", "baseline": "middle", "color": "black"},
   "encoding": {"x": {"datum": 54, "type": "quantitative", "scale": {"domain": [0, 100], "nice": false, "zero": false},
      "axis": {"values": [0,5,10,15,20,25,30,35,40,45,50,55,60,65,70,75,80,85,90,95,100], "labelExpr": "datum.value % 10 === 0 ? datum.label : ''", "tickSize": 5, "title": null}},
    "y": {"datum": -16.7, "type": "quantitative", "scale": {"domain": [0, 587], "reverse": true, "nice": false, "zero": false}, "axis": null}, "text": {"value": "Str."}}},
  {"data": {"values": [{"k": 1}]}, "mark": {"type": "text", "font": "Liberation Serif", "fontSize": 17, "align": "center", "baseline": "middle", "color": "black"},
   "encoding": {"x": {"datum": 83, "type": "quantitative", "scale": {"domain": [0, 100], "nice": false, "zero": false},
      "axis": {"values": [0,5,10,15,20,25,30,35,40,45,50,55,60,65,70,75,80,85,90,95,100], "labelExpr": "datum.value % 10 === 0 ? datum.label : ''", "tickSize": 5, "title": null}},
    "y": {"datum": -16.7, "type": "quantitative", "scale": {"domain": [0, 587], "reverse": true, "nice": false, "zero": false}, "axis": null}, "text": {"value": "NBP"}}}
 ]
},
{
 "width": 138, "height": 737,
 "layer": [
  {"data": {"name": "poac_b"}, "mark": {"type": "area", "orient": "horizontal", "fill": "black"},
   "encoding": {
    "y": {"field": "depth", "type": "quantitative", "scale": {"domain": [0, 587], "reverse": true, "nice": false, "zero": false}, "axis": null},
    "x": {"field": "v", "type": "quantitative", "scale": {"domain": [0, 50], "nice": false, "zero": false},
      "axis": {"values": [0,5,10,15,20,25,30,35,40,45,50], "labelExpr": "datum.value % 10 === 0 && datum.value > 0 ? datum.label : ''", "tickSize": 5, "title": null}},
    "x2": {"datum": 0}
   }},
  {"data": {"values": [{"k": 1}]}, "mark": {"type": "text", "font": "Liberation Serif", "fontSize": 16, "angle": 315, "align": "left", "baseline": "alphabetic", "color": "black"},
   "encoding": {"x": {"datum": 10, "type": "quantitative", "scale": {"domain": [0, 50], "nice": false, "zero": false},
      "axis": {"values": [0,5,10,15,20,25,30,35,40,45,50], "labelExpr": "datum.value % 10 === 0 && datum.value > 0 ? datum.label : ''", "tickSize": 5, "title": null}},
    "y": {"datum": -14, "type": "quantitative", "scale": {"domain": [0, 587], "reverse": true, "nice": false, "zero": false}, "axis": null}, "text": {"value": "Poaceae undiff."}}},
  {"data": {"values": [{"k": 1}]}, "mark": {"type": "text", "font": "Liberation Serif", "fontSize": 28, "fontWeight": "bold", "align": "center", "baseline": "middle", "color": "black"},
   "encoding": {"x": {"datum": 35, "type": "quantitative", "scale": {"domain": [0, 50], "nice": false, "zero": false},
      "axis": {"values": [0,5,10,15,20,25,30,35,40,45,50], "labelExpr": "datum.value % 10 === 0 && datum.value > 0 ? datum.label : ''", "tickSize": 5, "title": null}},
    "y": {"datum": 29.5, "type": "quantitative", "scale": {"domain": [0, 587], "reverse": true, "nice": false, "zero": false}, "axis": null}, "text": {"value": "b)"}}}
 ]
}
],
"config": {
 "view": {"stroke": "black", "strokeWidth": 1},
 "concat": {"spacing": 0},
 "axis": {"grid": false, "domain": false, "labelColor": "black", "tickColor": "black", "titleColor": "black", "labelFlush": false, "labelOverlap": false, "labelBound": false, "tickWidth": 1},
 "axisX": {"labelFont": "Liberation Sans Narrow, Liberation Sans", "labelFontSize": 14, "labelPadding": 2, "titleFont": "Liberation Sans", "titleFontSize": 24, "titleFontWeight": "normal"},
 "axisY": {"labelFont": "Liberation Sans", "labelFontSize": 14}
}
}
